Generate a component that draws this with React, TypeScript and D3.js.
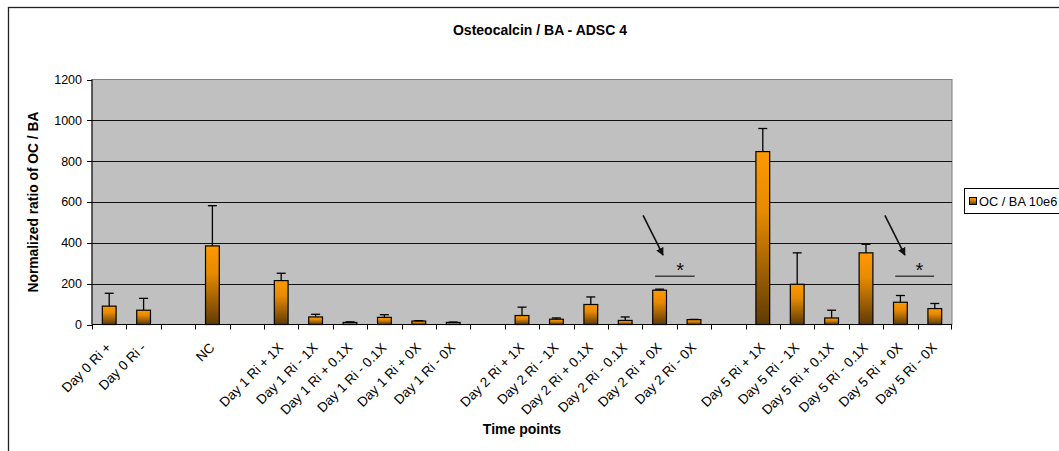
import React from "react";
import * as d3 from "d3";

const categories: string[] = [
  "Day 0 Ri +", "Day 0 Ri -", "", "NC", "",
  "Day 1 Ri + 1X", "Day 1 Ri - 1X", "Day 1 Ri + 0.1X", "Day 1 Ri - 0.1X", "Day 1 Ri + 0X", "Day 1 Ri - 0X", "",
  "Day 2 Ri + 1X", "Day 2 Ri - 1X", "Day 2 Ri + 0.1X", "Day 2 Ri - 0.1X", "Day 2 Ri + 0X", "Day 2 Ri - 0X", "",
  "Day 5 Ri + 1X", "Day 5 Ri - 1X", "Day 5 Ri + 0.1X", "Day 5 Ri - 0.1X", "Day 5 Ri + 0X", "Day 5 Ri - 0X",
];
const values: (number | null)[] = [
  90, 70, null, 385, null,
  215, 37, 10, 35, 17, 10, null,
  44, 26, 98, 20, 168, 24, null,
  847, 197, 32, 351, 109, 78,
];
const errors: (number | null)[] = [
  63, 58, null, 197, null,
  36, 13, 3, 13, 2, 2, null,
  41, 6, 37, 17, 5, 1, null,
  113, 154, 38, 42, 33, 25,
];
const yTicks: number[] = [0, 200, 400, 600, 800, 1000, 1200];
const seriesName = "OC / BA 10e6";
// annotations in category-index units (x) and value units (y)
const arrows = [
  { x1: 16.02, y1: 535, x2: 16.6, y2: 340 },
  { x1: 23.05, y1: 535, x2: 23.63, y2: 340 },
];
const starLines = [
  { x1: 16.37, x2: 17.52, y: 236, star: 17.1 },
  { x1: 23.35, x2: 24.48, y: 236, star: 24.05 },
];

const FONT = "'Liberation Sans', Arial, sans-serif";

export default function App() {
  const left = 92, right = 952, top = 79.5, bottom = 324.5;
  const x = d3.scaleBand<string>()
    .domain(categories.map((_, i) => String(i)))
    .range([left, right])
    .paddingInner(0).paddingOuter(0);
  const y = d3.scaleLinear().domain([0, 1200]).range([bottom, top]);
  const step = x.step();
  const bw = step * 0.4;
  const xu = (u: number) => left + u * step;

  return (
    <svg width={1059} height={451} style={{ position: "fixed", left: 0, top: 0, background: "#fff" }}
      fontFamily={FONT}>
      <defs>
        <linearGradient id="barGrad" x1="0" y1="0" x2="0" y2="1">
          <stop offset="0" stopColor="#FF9900" />
          <stop offset="0.35" stopColor="#E68A00" />
          <stop offset="1" stopColor="#5E3A06" />
        </linearGradient>
        <marker id="arrowHead" viewBox="0 0 10 10" refX="9" refY="5" markerWidth="5" markerHeight="5" orient="auto">
          <path d="M0,0 L10,5 L0,10 z" fill="#111" />
        </marker>
      </defs>
      {/* outer chart border */}
      <rect x={8.5} y={7.5} width={1200} height={600} fill="#fff" stroke="#222" strokeWidth={1.3} />
      {/* title */}
      <text x={540} y={35} textAnchor="middle" fontSize={14} fontWeight="bold">Osteocalcin / BA - ADSC 4</text>
      {/* plot area */}
      <rect x={left} y={top} width={right - left} height={bottom - top} fill="#C0C0C0" stroke="#808080" strokeWidth={1} />
      {yTicks.filter(t => t > 0 && t < 1200).map(t => (
        <line key={t} x1={left} x2={right} y1={Math.round(y(t)) + 0.5} y2={Math.round(y(t)) + 0.5} stroke="#111" strokeWidth={1} />
      ))}
      {/* y axis */}
      <line x1={left} x2={left} y1={top} y2={bottom} stroke="#000" />
      {yTicks.map(t => (
        <g key={t}>
          <line x1={left - 5} x2={left} y1={Math.round(y(t)) + 0.5} y2={Math.round(y(t)) + 0.5} stroke="#000" />
          <text x={82} y={y(t)} dy="0.35em" textAnchor="end" fontSize={12.5} fill="#000">{t}</text>
        </g>
      ))}
      {/* bars */}
      {values.map((v, i) => {
        if (v == null) return null;
        const cx = (x(String(i)) as number) + step / 2;
        const e = errors[i] ?? 0;
        const yTop = y(v);
        const yErr = y(v + e);
        return (
          <g key={i}>
            <rect x={cx - bw / 2} y={yTop} width={bw} height={bottom - yTop} fill="url(#barGrad)" stroke="#000" strokeWidth={1.2} />
            {e > 0 && (
              <g stroke="#000" strokeWidth={1.3}>
                <line x1={cx} x2={cx} y1={yTop} y2={yErr} />
                <line x1={cx - 4.5} x2={cx + 4.5} y1={yErr} y2={yErr} />
              </g>
            )}
          </g>
        );
      })}
      {/* x axis */}
      <line x1={left} x2={right} y1={bottom} y2={bottom} stroke="#000" />
      {categories.map((_, i) => (
        <line key={"t" + i} x1={Math.round(xu(i)) + 0.5} x2={Math.round(xu(i)) + 0.5} y1={bottom} y2={bottom + 5} stroke="#000" />
      ))}
      <line x1={right - 0.5} x2={right - 0.5} y1={bottom} y2={bottom + 5} stroke="#000" />
      {categories.map((c, i) => {
        if (!c) return null;
        const cx = (x(String(i)) as number) + step / 2;
        return (
          <text key={"l" + i} transform={`translate(${cx + 3},${bottom + 24}) rotate(-45)`} textAnchor="end" fontSize={13.5} fill="#000">{c}</text>
        );
      })}
      {/* annotations */}
      {arrows.map((a, i) => (
        <line key={"a" + i} x1={xu(a.x1)} y1={y(a.y1)} x2={xu(a.x2)} y2={y(a.y2)} stroke="#111" strokeWidth={1.6} markerEnd="url(#arrowHead)" />
      ))}
      {starLines.map((s, i) => (
        <g key={"s" + i}>
          <line x1={xu(s.x1)} x2={xu(s.x2)} y1={y(s.y)} y2={y(s.y)} stroke="#404040" strokeWidth={1.5} />
          <text x={xu(s.star)} y={y(s.y) + 1} textAnchor="middle" fontSize={20} fill="#111">*</text>
        </g>
      ))}
      {/* axis titles */}
      <text transform={`translate(38,${(top + bottom) / 2}) rotate(-90)`} textAnchor="middle" fontSize={13.8} fontWeight="bold">Normalized ratio of OC / BA</text>
      <text x={(left + right) / 2} y={434} textAnchor="middle" fontSize={14} fontWeight="bold">Time points</text>
      {/* legend */}
      <rect x={964.5} y={188.5} width={120} height={25} fill="#fff" stroke="#000" />
      <rect x={969.5} y={197.5} width={7} height={7} fill="url(#barGrad)" stroke="#000" />
      <text x={979} y={206} fontSize={12.8} fill="#000">{seriesName}</text>
    </svg>
  );
}
